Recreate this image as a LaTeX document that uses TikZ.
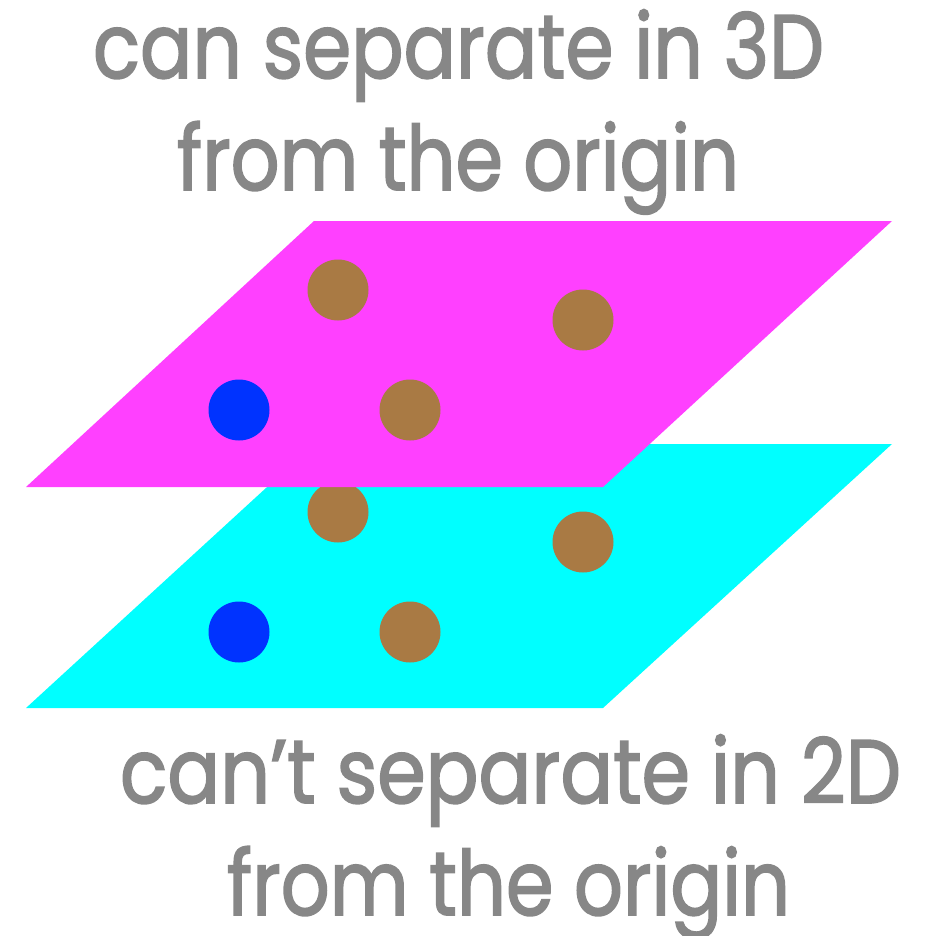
\documentclass[tikz,border=0pt]{standalone}
\usepackage{fontspec}
\newfontfamily\lblfont{Poppins}[FakeBold=2]
\usepackage{graphicx}
\definecolor{txtgray}{HTML}{878787}
\definecolor{planemag}{HTML}{FF40FF}
\definecolor{planecyan}{HTML}{00FFFF}
\definecolor{dotbrown}{HTML}{A97A44}
\definecolor{dotblue}{HTML}{0033FF}
\tikzset{
  lbl/.style={text=txtgray, anchor=base, inner sep=0pt, font=\lblfont\fontsize{90}{90}\selectfont},
  bdot/.style={circle, fill=dotbrown, minimum size=61pt, inner sep=0pt, draw=none},
  udot/.style={circle, fill=dotblue, minimum size=61pt, inner sep=0pt, draw=none},
}
\begin{document}
\begin{tikzpicture}[x=1pt,y=-1pt]
\useasboundingbox (0,0) rectangle (928,936);
% lower (cyan) plane
\fill[planecyan] (314,444) -- (892,444) -- (603,708) -- (26,708) -- cycle;
\node[bdot] (c1) at (338,512) {};
\node[bdot] (c2) at (583,542) {};
\node[bdot] (c3) at (410,632) {};
\node[udot] (c4) at (239,632) {};
% upper (magenta) plane
\fill[planemag] (314,221) -- (892,221) -- (603,487) -- (26,487) -- cycle;
\node[bdot] (m1) at (338,290) {};
\node[bdot] (m2) at (583,320) {};
\node[bdot] (m3) at (410,410) {};
\node[udot] (m4) at (239,410) {};
% labels
\node[lbl] (t1) at (458.5,78) {\resizebox{731pt}{\height}{can separate in 3D}};
\node[lbl] (t2) at (458,190) {\resizebox{562pt}{\height}{from the origin}};
\node[lbl] (t3) at (510.5,803) {\resizebox{781pt}{\height}{can’t separate in 2D}};
\node[lbl] (t4) at (508.5,915) {\resizebox{563pt}{\height}{from the origin}};
\end{tikzpicture}
\end{document}
